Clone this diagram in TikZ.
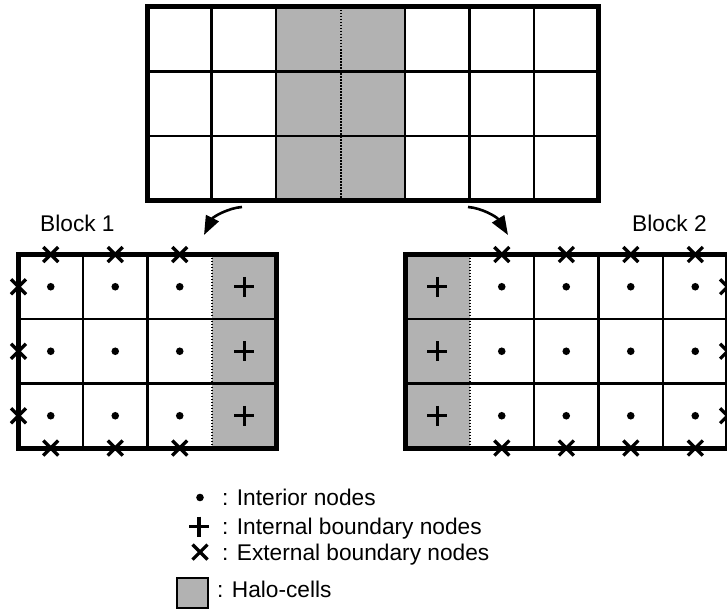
\documentclass[tikz,border=0pt]{standalone}
\usepackage{fontspec}
\setmainfont{Liberation Sans}
\usetikzlibrary{arrows.meta}
\tikzset{
 halo/.style={fill=black!30},
 gridline/.style={line width=2.2pt},
 border/.style={line width=5pt},
 haloline/.style={line width=2pt, dash pattern=on 1.5pt off 1.5pt},
 xmk/.style={line width=3.2pt},
 pmk/.style={line width=3.3pt},
 lbl/.style={anchor=base west, inner sep=0pt, font=\fontsize{22.7}{27}\selectfont},
 arr/.style={line width=2.6pt, -{Triangle[length=19pt,width=14pt]}},
 pics/xmark/.style={code={\draw[xmk] (-7.5,-7.5)--(7.5,7.5) (-7.5,7.5)--(7.5,-7.5);}},
 pics/pmark/.style={code={\draw[pmk] (-10,0)--(10,0) (0,-10)--(0,10);}},
 pics/dmark/.style={code={\fill (0,0) circle (3.8pt);}},
}
\begin{document}
\begin{tikzpicture}[x=1pt,y=-1pt]
\useasboundingbox (0,0) rectangle (727,610);
\clip (0,0) rectangle (727,610);
% ---------- top grid ----------
\fill[halo] (276,7) rectangle (405,200.5);
\foreach \vx in {211.5,276,405,469.5,534} \draw[gridline] (\vx,7) -- (\vx,200.5);
\foreach \hy in {71.5,136} \draw[gridline] (147,\hy) -- (598.5,\hy);
\draw[haloline] (340.5,7) -- (340.5,200.5);
\draw[border] (147,7) rectangle (598.5,200.5);
\coordinate (a1s) at (242,207);
\coordinate (a1e) at (204,235);
\coordinate (a2s) at (468,207);
\coordinate (a2e) at (508,235);
\draw[arr] (a1s) .. controls (228,208) and (213,217) .. (a1e);
\draw[arr] (a2s) .. controls (482,208) and (497,217) .. (a2e);
% ---------- block 1 ----------
\node[lbl] (b1) at (40,231.5) {Block 1};
\fill[halo] (212,254.5) rectangle (276.5,448);
\foreach \vx in {83,147.5} \draw[gridline] (\vx,254.5) -- (\vx,448);
\foreach \hy in {319,383.5} \draw[gridline] (18.5,\hy) -- (276.5,\hy);
\draw[haloline] (212,254.5) -- (212,448);
\draw[border] (18.5,254.5) rectangle (276.5,448);
\foreach \cx in {50.75,115.25,179.75} {
  \foreach \ry in {286.75,351.25,415.75} \pic at (\cx,\ry) {dmark};
  \pic at (\cx,254.5) {xmark};
  \pic at (\cx,448) {xmark};
}
\foreach \ry in {286.75,351.25,415.75} {
  \pic at (244.25,\ry) {pmark};
  \pic at (18.5,\ry) {xmark};
}
% ---------- block 2 ----------
\node[lbl] (b2) at (632,231.5) {Block 2};
\fill[halo] (405,254.5) rectangle (469.5,448);
\foreach \vx in {534,598.5,663} \draw[gridline] (\vx,254.5) -- (\vx,448);
\foreach \hy in {319,383.5} \draw[gridline] (405,\hy) -- (727.5,\hy);
\draw[haloline] (469.5,254.5) -- (469.5,448);
\draw[border] (405,254.5) rectangle (727.5,448);
\foreach \cx in {501.75,566.25,630.75,695.25} {
  \foreach \ry in {286.75,351.25,415.75} \pic at (\cx,\ry) {dmark};
  \pic at (\cx,254.5) {xmark};
  \pic at (\cx,448) {xmark};
}
\foreach \ry in {286.75,351.25,415.75} {
  \pic at (437.25,\ry) {pmark};
  \pic at (727.5,\ry) {xmark};
}
% ---------- legend ----------
\pic at (200,497.5) {dmark};
\node[lbl] (l1) at (222,505) {: Interior nodes};
\pic at (199,526.5) {pmark};
\node[lbl] (l2) at (222,534.5) {: Internal boundary nodes};
\pic at (200,552) {xmark};
\node[lbl] (l3) at (222,560) {: External boundary nodes};
\draw[halo, draw=black, line width=1.4pt] (177,578) rectangle (208,608);
\node[lbl] (l4) at (217,597) {: Halo-cells};
\end{tikzpicture}
\end{document}
